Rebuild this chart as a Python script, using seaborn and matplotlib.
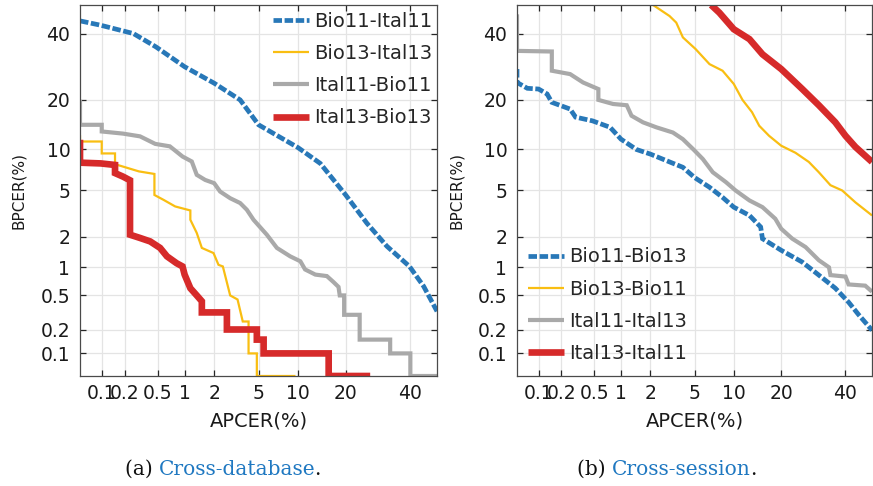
import numpy as np
import pandas as pd
import matplotlib
matplotlib.use("Agg")
import matplotlib.pyplot as plt
import seaborn as sns
from statistics import NormalDist
from matplotlib.offsetbox import TextArea, HPacker, AnchoredOffsetbox

# ---------------- data (APCER %, BPCER %) ----------------
# Cross-database DET curves
bio11_ital11_x = [0.05, 0.096, 0.257, 0.48, 1.0, 2.0, 3.48, 5.0, 10.0, 14.1, 20.0, 25.9, 32.2, 40.0, 45.1, 50.0]
bio11_ital11_y = [44.4, 42.9, 40.0, 35.5, 29.2, 24.4, 20.0, 14.4, 10.3, 8.0, 4.6, 2.65, 1.62, 1.02, 0.63, 0.33]

bio13_ital13_x = [0.05, 0.05, 0.1, 0.1, 0.15, 0.15, 0.30, 0.46, 0.46, 0.585, 0.79, 1.15, 1.15, 1.34, 1.51,
                  1.97, 2.2, 2.42, 2.83, 3.3, 3.67, 4.12, 4.12, 4.84, 4.84, 9.6]
bio13_ital13_y = [12.4, 11.3, 11.3, 9.4, 9.4, 7.9, 7.0, 6.7, 4.6, 4.2, 3.7, 3.42, 2.84, 2.16, 1.56,
                  1.39, 1.06, 1.02, 0.5, 0.45, 0.25, 0.25, 0.1, 0.1, 0.05, 0.05]

ital11_bio11_x = [0.05, 0.05, 0.1, 0.1, 0.19, 0.31, 0.47, 0.69, 0.95, 1.19, 1.34, 1.63, 2.0, 2.28, 2.83,
                  3.48, 3.98, 4.54, 5.84, 7.0, 8.8, 10.4, 11.2, 13.1, 15.5, 17.0, 18.2, 18.5, 19.6, 19.6,
                  23.8, 23.8, 33.3, 33.3, 40.3, 40.3, 50.0]
ital11_bio11_y = [20.0, 14.4, 14.4, 13.1, 12.7, 12.2, 10.9, 10.5, 8.95, 8.26, 6.6, 6.04, 5.7, 4.9, 4.33,
                  3.95, 3.47, 2.84, 2.08, 1.56, 1.29, 1.15, 0.95, 0.84, 0.81, 0.70, 0.62, 0.5, 0.5, 0.30,
                  0.30, 0.15, 0.15, 0.1, 0.1, 0.05, 0.05]

ital13_bio13_x = [0.05, 0.05, 0.097, 0.15, 0.15, 0.19, 0.233, 0.233, 0.31, 0.41, 0.535, 0.64, 0.82, 0.95,
                  1.0, 1.15, 1.34, 1.51, 1.51, 2.64, 2.64, 4.84, 4.84, 5.5, 5.5, 15.9, 15.9, 26.9]
ital13_bio13_y = [11.6, 8.1, 8.0, 7.8, 6.8, 6.4, 6.0, 2.08, 1.94, 1.8, 1.56, 1.29, 1.1, 1.02,
                  0.84, 0.6, 0.5, 0.43, 0.32, 0.32, 0.2, 0.2, 0.15, 0.15, 0.1, 0.1, 0.05, 0.05]

# Cross-session DET curves
bio11_bio13_x = [0.05, 0.05, 0.07, 0.1, 0.13, 0.15, 0.257, 0.3, 0.48, 0.76, 1.0, 1.45, 2.0, 3.03, 3.98,
                 5.0, 6.6, 8.3, 10.0, 12.8, 15.1, 15.5, 20.0, 25.9, 31.1, 36.7, 41.4, 45.1, 50.0]
bio11_bio13_y = [28.5, 24.6, 23.0, 22.8, 21.5, 19.4, 17.8, 16.0, 15.2, 13.9, 11.7, 10.0, 9.3, 8.2, 7.5,
                 6.3, 5.3, 4.4, 3.65, 3.1, 2.45, 1.91, 1.48, 1.13, 0.83, 0.6, 0.42, 0.30, 0.196]

bio13_bio11_x = [2.12, 3.03, 3.48, 3.98, 5.1, 6.6, 8.3, 10.0, 11.5, 13.3, 14.8, 17.0, 20.0, 23.9, 27.9,
                 31.1, 35.0, 39.1, 43.9, 50.0]
bio13_bio11_y = [50.0, 46.1, 43.8, 38.7, 34.8, 30.0, 28.0, 24.2, 20.0, 17.1, 14.2, 12.3, 10.6, 9.5, 8.2,
                 6.9, 5.5, 5.0, 4.0, 3.1]

ital11_ital13_x = [0.05, 0.05, 0.15, 0.15, 0.257, 0.37, 0.56, 0.56, 0.82, 1.15, 1.29, 1.69, 2.28, 3.25,
                   3.98, 4.9, 5.84, 7.0, 8.8, 10.3, 12.8, 15.5, 18.5, 20.0, 23.0, 26.9, 31.1, 34.5, 35.0,
                   40.3, 41.4, 47.5, 50.0]
ital11_ital13_y = [46.7, 34.2, 34.0, 28.0, 27.0, 24.6, 22.8, 20.0, 19.0, 18.7, 16.3, 14.9, 13.9, 12.9,
                   11.7, 10.0, 8.6, 6.9, 5.8, 5.0, 4.15, 3.65, 2.9, 2.36, 1.91, 1.59, 1.18, 1.0, 0.83,
                   0.8, 0.66, 0.64, 0.55]

ital13_ital11_x = [6.8, 7.85, 10.0, 12.8, 15.5, 20.0, 25.9, 31.1, 36.7, 40.3, 43.9, 50.0]
ital13_ital11_y = [50.0, 47.3, 41.5, 38.1, 33.1, 28.5, 22.8, 18.7, 14.9, 12.3, 10.4, 8.2]

tick_values = [0.1, 0.2, 0.5, 1, 2, 5, 10, 20, 40]
tick_labels = ["0.1", "0.2", "0.5", "1", "2", "5", "10", "20", "40"]

panel_a_names = ["Bio11-Ital11", "Bio13-Ital13", "Ital11-Bio11", "Ital13-Bio13"]
panel_b_names = ["Bio11-Bio13", "Bio13-Bio11", "Ital11-Ital13", "Ital13-Ital11"]

# ---------------- styling ----------------
BLUE, YELLOW, GRAY, RED = "#2878b8", "#f9be12", "#a9a9a9", "#d62a2a"
colors = [BLUE, YELLOW, GRAY, RED]
widths = [3.4, 1.6, 3.0, 4.8]
dash_styles = [(1.8, 0.55), "", "", ""]

sns.set_style("white")
plt.rcParams["font.family"] = ["DejaVu Sans"]
plt.rcParams["lines.solid_joinstyle"] = "miter"
plt.rcParams["lines.dash_joinstyle"] = "miter"
plt.rcParams["lines.solid_capstyle"] = "butt"
plt.rcParams["lines.dash_capstyle"] = "butt"

_nd = NormalDist()
_ppf = np.vectorize(lambda p: _nd.inv_cdf(p), otypes=[float])
_cdf = np.vectorize(lambda z: _nd.cdf(z), otypes=[float])


def probit_fwd(v):
    v = np.clip(np.asarray(v, dtype=float) / 100.0, 1e-9, 1 - 1e-9)
    return _ppf(v)


def probit_inv(z):
    return _cdf(np.asarray(z, dtype=float)) * 100.0


def build_frame(names, xs, ys):
    rows = []
    for name, x, y in zip(names, xs, ys):
        rows.append(pd.DataFrame({"curve": name, "APCER": x, "BPCER": y}))
    return pd.concat(rows, ignore_index=True)


def draw_panel(ax, names, xs, ys, legend_kw):
    df = build_frame(names, xs, ys)
    sns.lineplot(data=df, x="APCER", y="BPCER", hue="curve", size="curve", style="curve",
                 hue_order=names, size_order=names, style_order=names,
                 palette=dict(zip(names, colors)), sizes=dict(zip(names, widths)),
                 dashes=dict(zip(names, dash_styles)),
                 estimator=None, sort=False, legend=False, ax=ax)
    for scale_setter in (ax.set_xscale, ax.set_yscale):
        scale_setter("function", functions=(probit_fwd, probit_inv))
    ax.set_xlim(0.05, 50)
    ax.set_ylim(0.05, 50)
    ax.set_xticks(tick_values)
    ax.set_xticklabels(tick_labels)
    ax.set_yticks(tick_values)
    ax.set_yticklabels(tick_labels)
    ax.minorticks_off()
    ax.grid(True, color="#e4e4e4", linewidth=0.9)
    ax.set_axisbelow(True)
    for sp in ax.spines.values():
        sp.set_visible(True)
        sp.set_color("#4a4a4a")
        sp.set_linewidth(0.9)
    ax.tick_params(axis="both", which="major", direction="in", length=4, width=0.9,
                   color="#262626", labelsize=13.5, labelcolor="#1a1a1a",
                   top=True, right=True, bottom=True, left=True)
    ax.tick_params(axis="x", pad=6)
    ax.tick_params(axis="y", pad=7)
    ax.set_xlabel("APCER(%)", fontsize=14, color="#1a1a1a")
    ax.set_ylabel("BPCER(%)", fontsize=11, color="#1a1a1a")
    ax.xaxis.set_label_coords(0.5, -0.095)
    ax.yaxis.set_label_coords(-0.15, 0.5)
    handles = ax.get_lines()[:len(names)]
    ax.legend(handles, names, frameon=False, fontsize=14, handlelength=1.85,
              handletextpad=0.28, labelspacing=0.68, borderpad=0.0, borderaxespad=0.0,
              **legend_kw)


fig = plt.figure(figsize=(8.73, 4.86), dpi=100)
ax_a = fig.add_axes([80 / 873, 110 / 486, 357 / 873, 371 / 486])
ax_b = fig.add_axes([517 / 873, 110 / 486, 355 / 873, 371 / 486])

draw_panel(ax_a, panel_a_names,
           [bio11_ital11_x, bio13_ital13_x, ital11_bio11_x, ital13_bio13_x],
           [bio11_ital11_y, bio13_ital13_y, ital11_bio11_y, ital13_bio13_y],
           dict(loc="upper right", bbox_to_anchor=(0.988, 0.982)))
draw_panel(ax_b, panel_b_names,
           [bio11_bio13_x, bio13_bio11_x, ital11_ital13_x, ital13_ital11_x],
           [bio11_bio13_y, bio13_bio11_y, ital11_ital13_y, ital13_ital11_y],
           dict(loc="lower left", bbox_to_anchor=(0.03, 0.035)))

# sub-figure captions
CAPTION_BLUE = "#1f78c1"


def caption(prefix, body, x_px, anchor):
    props = dict(family="DejaVu Serif", size=14.5)
    head = HPacker(children=[TextArea(prefix, textprops=dict(color="#111111", **props)),
                             TextArea(body, textprops=dict(color=CAPTION_BLUE, **props))],
                   align="baseline", pad=0, sep=0)
    box = HPacker(children=[head, TextArea(".", textprops=dict(color="#111111", **props))],
                  align="baseline", pad=0, sep=-1)
    anchored = AnchoredOffsetbox(loc=anchor, child=box, pad=0, borderpad=0, frameon=False,
                                 bbox_to_anchor=(x_px / 873, 1 - 469 / 486),
                                 bbox_transform=fig.transFigure)
    fig.add_artist(anchored)


caption("(a) ", "Cross-database", 125, "center left")
caption("(b) ", "Cross-session", 756, "center right")

fig.savefig("out.png", dpi=100)
